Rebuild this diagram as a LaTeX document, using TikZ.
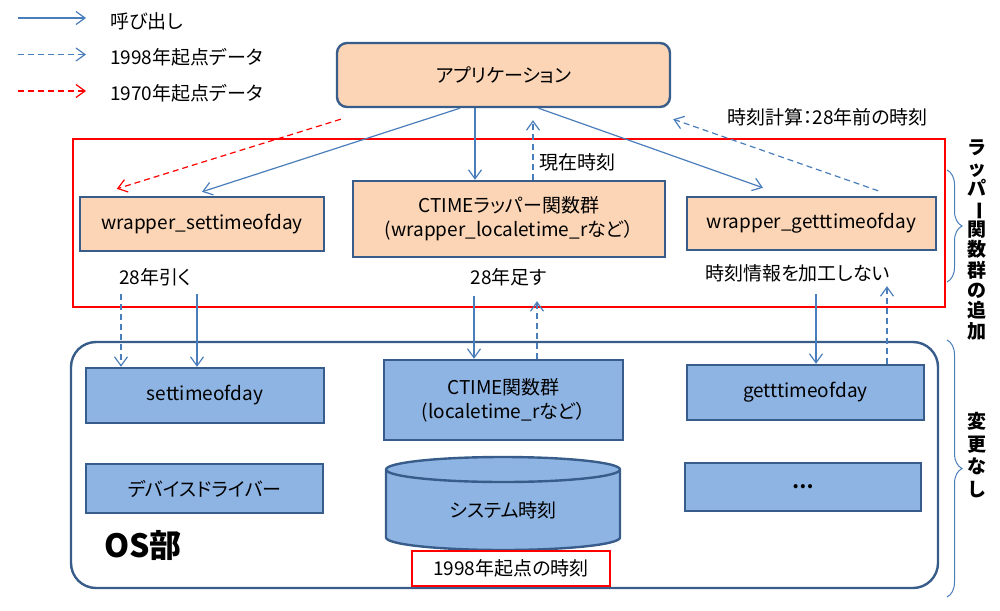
\documentclass[tikz,border=0pt]{standalone}
\usepackage{fontspec}
\setmainfont{Noto Sans CJK JP}[RawFeature=+palt]
\usepackage{tikz}
\usetikzlibrary{arrows.meta,decorations.pathreplacing}
\definecolor{boxline}{HTML}{385D8A}
\definecolor{peach}{HTML}{FBD5B5}
\definecolor{osblue}{HTML}{8EB4E3}
\definecolor{callblue}{HTML}{4A7EBB}
\definecolor{alert}{HTML}{FF0000}
\tikzset{
  wrapbox/.style={draw=boxline,fill=peach,line width=2.4pt,inner sep=0pt,align=center,
    font=\fontsize{19}{24}\selectfont},
  osbox/.style={wrapbox,fill=osblue},
  callarrow/.style={-{Straight Barb[length=9pt,width=13pt]},draw=callblue,line width=1.2pt},
  dataarrow/.style={callarrow,dash pattern=on 6pt off 4pt},
  oldarrow/.style={dataarrow,draw=alert},
  note/.style={font=\fontsize{19}{24}\selectfont,inner sep=0pt},
  sidenote/.style={font=\fontsize{19}{20.4}\selectfont\bfseries,align=center,inner sep=0pt},
  sidebrace/.style={draw=callblue,line width=1pt,decorate,decoration={brace,amplitude=15pt}}
}
\begin{document}
\begin{tikzpicture}[x=1pt,y=-1pt]
  \useasboundingbox (0,0) rectangle (1000,610);
  \coordinate (k1a) at (18,18);   \coordinate (k1b) at (86,18);
  \coordinate (k2a) at (18,54.5); \coordinate (k2b) at (86,54.5);
  \coordinate (k3a) at (18,91);   \coordinate (k3b) at (86,91);
  \draw[callarrow] (k1a) -- (k1b);
  \draw[dataarrow] (k2a) -- (k2b);
  \draw[oldarrow] (k3a) -- (k3b);
  \node[note,anchor=west] (k1) at (110,21) {呼び出し};
  \node[note,anchor=west] (k2) at (110,57) {1998年起点データ};
  \node[note,anchor=west] (k3) at (110,93) {1970年起点データ};
  \draw[alert,line width=2.4pt] (73,139) rectangle (945,307);
  \draw[boxline,line width=2.4pt,rounded corners=25pt] (71,342) rectangle (938,588);
  \node[wrapbox,rounded corners=10pt,minimum width=333pt,minimum height=64pt] (app) at (503.5,75) {アプリケーション};
  \node[wrapbox,minimum width=244pt,minimum height=54pt] (wset) at (202,224) {wrapper\_settimeofday};
  \node[wrapbox,minimum width=312pt,minimum height=76pt] (wctime) at (509,219) {CTIMEラッパー関数群\\(wrapper\_localetime\_rなど）};
  \node[wrapbox,minimum width=249pt,minimum height=53pt] (wget) at (811.5,223.5) {wrapper\_getttimeofday};
  \node[osbox,minimum width=238pt,minimum height=55pt] (settime) at (205,395.5) {settimeofday};
  \node[osbox,minimum width=239pt,minimum height=80pt] (ctime) at (503.5,400) {CTIME関数群\\(localetime\_rなど）};
  \node[osbox,minimum width=237pt,minimum height=55pt] (gettime) at (805.5,392.5) {getttimeofday};
  \node[osbox,minimum width=237pt,minimum height=49pt] (driver) at (204.5,488.5) {デバイスドライバー};
  \node[osbox,minimum width=236pt,minimum height=48pt] (others) at (803,487) {\bfseries …};
  \filldraw[fill=osblue,draw=boxline,line width=2.4pt] (386,469.5) -- (386,537.5) arc (180:360:117pt and 12.5pt) -- (620,469.5) arc (0:180:117pt and 12.5pt) -- cycle;
  \draw[boxline,line width=2.4pt] (386,469.5) arc (180:360:117pt and 12.5pt);
  \node[note] (clock) at (503,510) {システム時刻};
  \node[note,draw=alert,fill=white,line width=2.4pt,minimum width=198pt,minimum height=35pt] (epoch) at (511,568.5) {1998年起点の時刻};
  \node[font=\fontsize{32}{36}\selectfont\bfseries,inner sep=0pt] (os) at (143,545) {OS部};
  \node[note] (subnote) at (155.5,277) {28年引く};
  \node[note] (addnote) at (509,277) {28年足す};
  \node[note] (rawnote) at (797.5,273) {時刻情報を加工しない};
  \node[note] (nownote) at (577.5,162) {現在時刻};
  \node[note] (calcnote) at (827.5,117) {時刻計算：28年前の時刻};
  \draw[callarrow] ([xshift=-43.5pt]app.south) -- ([yshift=4pt]wset.north);
  \draw[oldarrow] ([xshift=5pt,yshift=-11pt]app.south west) -- ([xshift=38pt,yshift=7pt]wset.north west);
  \draw[callarrow] ([xshift=-28.5pt]app.south) -- ([xshift=-34pt]wctime.north);
  \draw[dataarrow] ([xshift=24pt]wctime.north) -- ([xshift=29.5pt,yshift=-12pt]app.south);
  \draw[callarrow] ([xshift=35pt]app.south) -- ([xshift=-48.5pt,yshift=8pt]wget.north);
  \draw[dataarrow] ([xshift=-59pt,yshift=5pt]wget.north east) -- ([xshift=2pt,yshift=-11pt]app.south east);
  \draw[dataarrow] ([xshift=-81pt,yshift=-42pt]wset.south) -- ([xshift=-84pt]settime.north);
  \draw[callarrow] ([xshift=-5pt,yshift=-42pt]wset.south) -- ([xshift=-8pt]settime.north);
  \draw[callarrow] ([xshift=-35pt,yshift=-38pt]wctime.south) -- ([xshift=-29.5pt]ctime.north);
  \draw[dataarrow] ([xshift=33.5pt]ctime.north) -- ([xshift=28pt,yshift=-43pt]wctime.south);
  \draw[callarrow] ([xshift=4.5pt,yshift=-43pt]wget.south) -- ([xshift=10.5pt]gettime.north);
  \draw[dataarrow] ([xshift=81.5pt]gettime.north) -- ([xshift=75.5pt,yshift=-35pt]wget.south);
  \draw[sidebrace] (947,170) -- (947,282);
  \draw[sidebrace] (947,340) -- (947,597);
  \node[sidenote] (addside) at (977,240) {ラ\\ッ\\パ\\\rotatebox[origin=c]{-90}{ー}\\関\\数\\群\\の\\追\\加};
  \node[sidenote,font=\fontsize{19}{22.5}\selectfont\bfseries] (keepside) at (977,455) {変\\更\\な\\し};
\end{tikzpicture}
\end{document}
